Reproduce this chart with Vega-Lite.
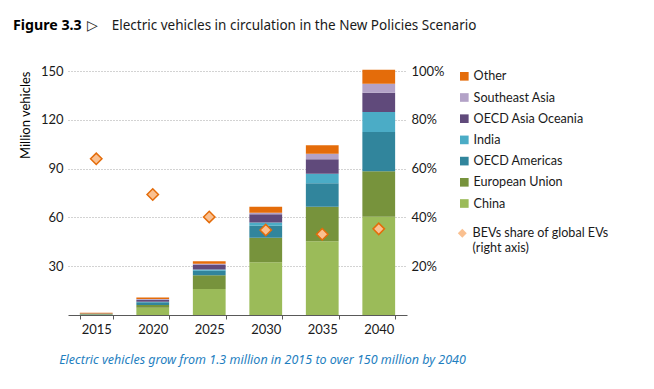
{
  "$schema": "https://vega.github.io/schema/vega-lite/v6.json",
  "width": 339,
  "height": 244,
  "autosize": {"type": "none"},
  "padding": {"left": 68, "top": 71, "right": 247, "bottom": 74},
  "background": "white",
  "title": {
    "text": "Figure 3.3",
    "subtitle": "\u200b\u00a0\u00a0\u00a0\u00a0\u00a0\u00a0\u00a0\u00a0\u00a0\u00a0\u00a0\u00a0\u00a0\u00a0\u00a0\u00a0\u00a0\u00a0\u00a0\u00a0\u00a0▷\u00a0\u00a0\u00a0\u00a0Electric vehicles in circulation in the New Policies Scenario",
    "anchor": "start",
    "frame": "group",
    "dx": -55,
    "offset": 32,
    "font": "Noto Sans",
    "fontSize": 14.2,
    "fontWeight": "bold",
    "color": "#000000",
    "subtitleFont": "Noto Sans",
    "subtitleFontSize": 13.5,
    "subtitleColor": "#1a1a1a",
    "subtitlePadding": -14
  },
  "datasets": {
    "bars": [
      {"year": "2015", "region": "China", "rank": 1, "value": 0.2},
      {"year": "2015", "region": "European Union", "rank": 2, "value": 0.3},
      {"year": "2015", "region": "OECD Americas", "rank": 3, "value": 0.3},
      {"year": "2015", "region": "India", "rank": 4, "value": 0.01},
      {"year": "2015", "region": "OECD Asia Oceania", "rank": 5, "value": 0.1},
      {"year": "2015", "region": "Southeast Asia", "rank": 6, "value": 0.01},
      {"year": "2015", "region": "Other", "rank": 7, "value": 0.4},
      {"year": "2020", "region": "China", "rank": 1, "value": 4.5},
      {"year": "2020", "region": "European Union", "rank": 2, "value": 1.6},
      {"year": "2020", "region": "OECD Americas", "rank": 3, "value": 1.7},
      {"year": "2020", "region": "India", "rank": 4, "value": 0.4},
      {"year": "2020", "region": "OECD Asia Oceania", "rank": 5, "value": 1.2},
      {"year": "2020", "region": "Southeast Asia", "rank": 6, "value": 0.4},
      {"year": "2020", "region": "Other", "rank": 7, "value": 1.0},
      {"year": "2025", "region": "China", "rank": 1, "value": 16.0},
      {"year": "2025", "region": "European Union", "rank": 2, "value": 8.4},
      {"year": "2025", "region": "OECD Americas", "rank": 3, "value": 2.8},
      {"year": "2025", "region": "India", "rank": 4, "value": 0.8},
      {"year": "2025", "region": "OECD Asia Oceania", "rank": 5, "value": 2.7},
      {"year": "2025", "region": "Southeast Asia", "rank": 6, "value": 0.8},
      {"year": "2025", "region": "Other", "rank": 7, "value": 1.6},
      {"year": "2030", "region": "China", "rank": 1, "value": 32.5},
      {"year": "2030", "region": "European Union", "rank": 2, "value": 15.0},
      {"year": "2030", "region": "OECD Americas", "rank": 3, "value": 7.3},
      {"year": "2030", "region": "India", "rank": 4, "value": 2.1},
      {"year": "2030", "region": "OECD Asia Oceania", "rank": 5, "value": 5.1},
      {"year": "2030", "region": "Southeast Asia", "rank": 6, "value": 0.8},
      {"year": "2030", "region": "Other", "rank": 7, "value": 3.7},
      {"year": "2035", "region": "China", "rank": 1, "value": 45.4},
      {"year": "2035", "region": "European Union", "rank": 2, "value": 21.1},
      {"year": "2035", "region": "OECD Americas", "rank": 3, "value": 14.5},
      {"year": "2035", "region": "India", "rank": 4, "value": 5.8},
      {"year": "2035", "region": "OECD Asia Oceania", "rank": 5, "value": 9.0},
      {"year": "2035", "region": "Southeast Asia", "rank": 6, "value": 3.4},
      {"year": "2035", "region": "Other", "rank": 7, "value": 5.2},
      {"year": "2040", "region": "China", "rank": 1, "value": 60.4},
      {"year": "2040", "region": "European Union", "rank": 2, "value": 28.0},
      {"year": "2040", "region": "OECD Americas", "rank": 3, "value": 24.1},
      {"year": "2040", "region": "India", "rank": 4, "value": 12.3},
      {"year": "2040", "region": "OECD Asia Oceania", "rank": 5, "value": 11.9},
      {"year": "2040", "region": "Southeast Asia", "rank": 6, "value": 5.5},
      {"year": "2040", "region": "Other", "rank": 7, "value": 8.6}
    ],
    "share": [
      {"year": "2015", "series": "BEVs", "share": 0.64},
      {"year": "2020", "series": "BEVs", "share": 0.494},
      {"year": "2025", "series": "BEVs", "share": 0.402},
      {"year": "2030", "series": "BEVs", "share": 0.348},
      {"year": "2035", "series": "BEVs", "share": 0.331},
      {"year": "2040", "series": "BEVs", "share": 0.353}
    ]
  },
  "encoding": {
    "x": {
      "field": "year",
      "type": "ordinal",
      "scale": {"paddingInner": 0.42, "paddingOuter": 0.21},
      "axis": {
        "title": "Electric vehicles grow from 1.3 million in 2015 to over 150 million by 2040",
        "titleFont": "Noto Sans",
        "titleFontStyle": "italic",
        "titleFontWeight": "normal",
        "titleFontSize": 12.5,
        "titleColor": "#1F7FBF",
        "titleX": 194,
        "titleAnchor": null,
        "titleAlign": "center",
        "titlePadding": 17,
        "labelAngle": 0,
        "labelFont": "Lato",
        "labelFontSize": 13,
        "labelColor": "#1a1a1a",
        "labelPadding": 4,
        "tickBand": "extent",
        "tickSize": 4,
        "tickColor": "#595959",
        "domainColor": "#595959",
        "grid": false
      }
    }
  },
  "layer": [
    {
      "data": {"name": "bars"},
      "mark": {"type": "bar"},
      "encoding": {
        "y": {
          "field": "value",
          "type": "quantitative",
          "stack": "zero",
          "scale": {"domain": [0, 150], "nice": false},
          "axis": {
            "title": "Million vehicles",
            "titleFont": "Lato",
            "titleFontSize": 13,
            "titleFontWeight": "normal",
            "titleColor": "#000000",
            "titleAnchor": "end",
            "titlePadding": 8,
            "values": [30, 60, 90, 120, 150],
            "labelFont": "Lato",
            "labelFontSize": 13,
            "labelColor": "#1a1a1a",
            "labelPadding": 5,
            "ticks": false,
            "domain": false,
            "grid": true,
            "gridColor": "#A6A6A6",
            "gridDash": [1, 2],
            "gridWidth": 1
          }
        },
        "color": {
          "field": "region",
          "type": "nominal",
          "scale": {
            "domain": ["Other", "Southeast Asia", "OECD Asia Oceania", "India", "OECD Americas", "European Union", "China"],
            "range": ["#E46C0A", "#B3A2C7", "#604A7B", "#4BACC6", "#31859C", "#77933C", "#9BBB59"]
          },
          "legend": {
            "title": null,
            "orient": "none",
            "legendX": 390,
            "legendY": -1,
            "symbolType": "square",
            "symbolSize": 75,
            "symbolStrokeWidth": 0,
            "labelFont": "Lato",
            "labelFontSize": 12.6,
            "labelColor": "#1a1a1a",
            "labelOffset": 3,
            "rowPadding": 8.2
          }
        },
        "order": {"field": "rank", "type": "quantitative", "sort": "ascending"}
      }
    },
    {
      "data": {"name": "share"},
      "mark": {"type": "point", "filled": true, "fill": "#FAC090", "stroke": "#E46C0A", "strokeWidth": 1.5, "size": 130, "opacity": 1},
      "encoding": {
        "y": {
          "field": "share",
          "type": "quantitative",
          "scale": {"domain": [0, 1], "nice": false},
          "axis": {
            "orient": "right",
            "title": null,
            "values": [0.2, 0.4, 0.6, 0.8, 1],
            "format": ".0%",
            "labelFont": "Lato",
            "labelFontSize": 13,
            "labelColor": "#1a1a1a",
            "labelPadding": 4,
            "ticks": false,
            "domain": false,
            "grid": false
          }
        },
        "shape": {
          "field": "series",
          "type": "nominal",
          "scale": {"range": ["diamond"]},
          "legend": {
            "title": null,
            "orient": "none",
            "legendX": 388,
            "legendY": 156,
            "symbolSize": 80,
            "symbolFillColor": "#FAC090",
            "symbolStrokeColor": "#E46C0A",
            "symbolStrokeWidth": 1.5,
            "labelFont": "Lato",
            "labelFontSize": 12.6,
            "labelColor": "#1a1a1a",
            "labelOffset": 4,
            "labelExpr": "['BEVs share of global EVs', '(right axis)']",
            "labelLineHeight": 16
          }
        }
      }
    }
  ],
  "resolve": {"scale": {"y": "independent"}},
  "config": {
    "view": {"stroke": null},
    "font": "Lato"
  }
}
